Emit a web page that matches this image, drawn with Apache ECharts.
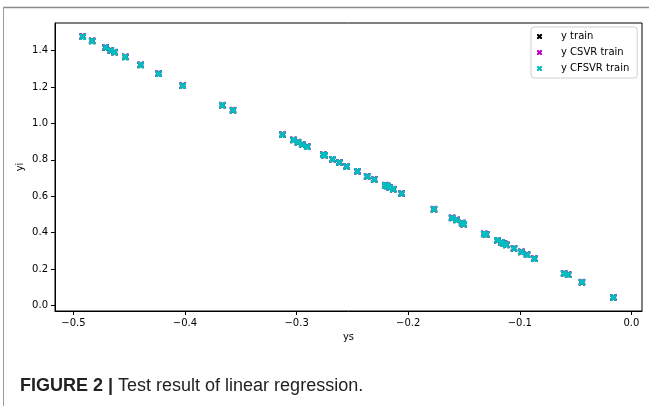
<!DOCTYPE html>
<html>
<head>
<meta charset="utf-8">
<script src="https://cdn.jsdelivr.net/npm/echarts@6/dist/echarts.min.js"></script>
<style>
html,body{margin:0;padding:0;background:#fff;}
#c{width:649px;height:406px;}
</style>
</head>
<body>
<div id="c"></div>
<script>
// ---- data ----
var ys = [-0.4916,-0.4832,-0.4712,-0.4665,-0.4631,-0.4535,-0.4397,-0.4236,-0.4020,-0.3666,
          -0.3570,-0.3127,-0.3028,-0.2988,-0.2950,-0.2905,-0.2761,-0.2749,-0.2677,-0.2617,
          -0.2551,-0.2455,-0.2368,-0.2305,-0.2206,-0.2188,-0.2165,-0.2134,-0.2059,-0.1769,
          -0.1607,-0.1567,-0.1517,-0.1502,-0.1319,-0.1301,-0.1202,-0.1164,-0.1142,-0.1121,
          -0.1052,-0.0986,-0.0935,-0.0870,-0.0603,-0.0567,-0.0443,-0.0162];
var yTrain = [1.477,1.453,1.416,1.401,1.392,1.365,1.321,1.273,1.207,1.100,
              1.073,0.938,0.909,0.897,0.885,0.872,0.828,0.825,0.803,0.786,
              0.764,0.737,0.709,0.693,0.661,0.656,0.648,0.639,0.615,0.529,
              0.481,0.470,0.453,0.446,0.393,0.390,0.358,0.347,0.340,0.333,
              0.314,0.294,0.279,0.257,0.176,0.169,0.128,0.044];
var yCSVR = [1.479,1.455,1.419,1.402,1.393,1.366,1.322,1.275,1.208,1.101,
             1.074,0.939,0.910,0.898,0.886,0.873,0.829,0.826,0.804,0.787,
             0.765,0.738,0.710,0.694,0.662,0.657,0.649,0.640,0.616,0.530,
             0.482,0.471,0.454,0.447,0.394,0.391,0.359,0.348,0.341,0.334,
             0.315,0.295,0.280,0.258,0.177,0.170,0.129,0.045];
var yCFSVR = [1.477,1.453,1.417,1.401,1.392,1.365,1.321,1.273,1.207,1.100,
              1.073,0.938,0.909,0.897,0.885,0.872,0.828,0.825,0.803,0.786,
              0.764,0.737,0.709,0.693,0.661,0.656,0.648,0.639,0.615,0.529,
              0.481,0.470,0.453,0.446,0.393,0.390,0.358,0.347,0.340,0.333,
              0.314,0.294,0.279,0.257,0.176,0.169,0.128,0.044];
var seriesNames = ['y train','y CSVR train','y CFSVR train'];
var xTicks = [-0.5,-0.4,-0.3,-0.2,-0.1,0.0];
var yTicks = [0.0,0.2,0.4,0.6,0.8,1.0,1.2,1.4];
var xAxisName = 'ys';
var yAxisName = 'yi';
var captionBold = 'FIGURE 2 |';
var captionText = ' Test result of linear regression.';

function pairs(xs, vs){ var o=[]; for(var i=0;i<xs.length;i++){ o.push([xs[i], vs[i]]); } return o; }
function fmt(v){ var s=Math.abs(v).toFixed(1); return (v < -1e-9 ? '\u2212' : '') + s; }

var X_SYM = 'path://M0,0L3,0L5,2L7,0L10,0L10,3L8,5L10,7L10,10L7,10L5,8L3,10L0,10L0,7L2,5L0,3Z';
var colors = ['#000000','#bf00bf','#00bfbf'];
var font = 'DejaVu Sans';

var chart = echarts.init(document.getElementById('c'), null, {renderer:'canvas'});
var sData = [yTrain, yCSVR, yCFSVR];
var series = seriesNames.map(function(n, i){
  return {
    name: n, type: 'scatter', data: pairs(ys, sData[i]),
    symbol: X_SYM, symbolSize: 6.5,
    itemStyle: {color: colors[i], opacity: 1},
    emphasis: {disabled: true}, z: 2 + i
  };
});

chart.setOption({
  animation: false,
  backgroundColor: '#ffffff',
  grid: {left: 55, right: 7, top: 23, bottom: 95, show: true, borderColor: '#000', borderWidth: 1,
         outerBoundsMode: 'none', containLabel: false},
  xAxis: {
    type: 'value', min: -0.5165, max: 0.0095,
    name: xAxisName, nameLocation: 'middle', nameGap: 21, nameMoveOverlap: false,
    nameTextStyle: {fontFamily: font, fontSize: 10, color: '#000'},
    axisLine: {show: true, onZero: false, lineStyle: {color: '#000', width: 1}}, splitLine: {show: false},
    axisTick: {show: true, inside: false, length: 4, customValues: xTicks, lineStyle: {color: '#000', width: 1}},
    axisLabel: {customValues: xTicks, formatter: fmt, margin: 7, fontFamily: font, fontSize: 10, color: '#000'}
  },
  yAxis: {
    type: 'value', min: -0.03, max: 1.552,
    name: yAxisName, nameLocation: 'middle', nameGap: 30, nameRotate: 90, nameMoveOverlap: false,
    nameTextStyle: {fontFamily: font, fontSize: 10, color: '#000'},
    axisLine: {show: true, onZero: false, lineStyle: {color: '#000', width: 1}}, splitLine: {show: false},
    axisTick: {show: true, inside: false, length: 4, customValues: yTicks, lineStyle: {color: '#000', width: 1}},
    axisLabel: {customValues: yTicks, formatter: fmt, margin: 7, fontFamily: font, fontSize: 10, color: '#000'}
  },
  legend: {
    orient: 'vertical', left: 531, top: 27,
    data: seriesNames,
    itemWidth: 5, itemHeight: 5, itemGap: 5,
    padding: [4, 8, 4, 6],
    backgroundColor: '#fff', borderColor: '#d0d0d0', borderWidth: 1, borderRadius: 3,
    textStyle: {fontFamily: font, fontSize: 10, color: '#000', lineHeight: 11, padding: [0,0,0,14]},
    selectedMode: false
  },
  graphic: [
    {type: 'line', shape: {x1: 3, y1: 7.5, x2: 649, y2: 7.5}, style: {stroke: '#8a8a8a', lineWidth: 1.5}, silent: true},
    {type: 'line', shape: {x1: 3.5, y1: 7, x2: 3.5, y2: 406}, style: {stroke: '#9a9a9a', lineWidth: 1}, silent: true},
    {type: 'text', left: 20, top: 377,
     style: {text: '{b|' + captionBold + '}{r|' + captionText + '}',
       rich: {b: {fontFamily: 'Liberation Sans', fontWeight: 'bold', fontSize: 18, fill: '#222'},
              r: {fontFamily: 'Liberation Sans', fontSize: 18, fill: '#222'}}}, silent: true}
  ],
  series: series
});
</script>
</body>
</html>
